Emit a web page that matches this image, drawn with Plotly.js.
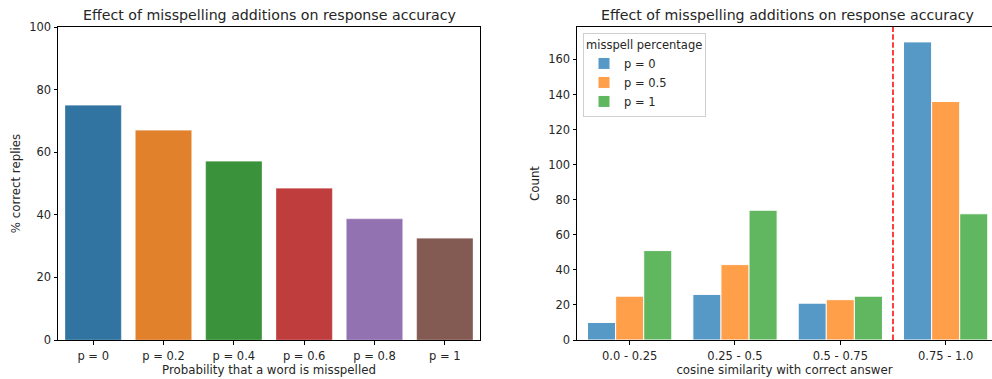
<!DOCTYPE html>
<html>
<head>
<meta charset="utf-8">
<script src="https://cdn.plot.ly/plotly-3.0.1.min.js"></script>
<style>html,body{margin:0;padding:0;background:#fff;}#chart{width:992px;height:379px;}</style>
</head>
<body>
<div id="chart"></div>
<script>
// Left chart data
const probLabels = ["p = 0", "p = 0.2", "p = 0.4", "p = 0.6", "p = 0.8", "p = 1"];
const pctCorrect = [75, 67, 57.1, 48.5, 38.7, 32.5];
const leftColors = ["#3274a1", "#e1812c", "#3a923a", "#c03d3e", "#9372b2", "#845b53"];

// Right chart data
const simBins = ["0.0 - 0.25", "0.25 - 0.5", "0.5 - 0.75", "0.75 - 1.0"];
const seriesNames = ["p = 0", "p = 0.5", "p = 1"];
const countP0 = [10, 26, 21, 170];
const countP05 = [25, 43, 23, 136];
const countP1 = [51, 74, 25, 72];
const seriesColors = ["#1f77b4", "#ff7f0e", "#2ca02c"];
const thresholdIndex = 2.5;

const FONT = "DejaVu Sans, sans-serif";
const tickFont = {family: FONT, size: 11.5, color: "#262626"};
const labFont = {family: FONT, size: 11.8, color: "#262626"};

const traces = [];
traces.push({
  type: "bar", x: probLabels, y: pctCorrect, xaxis: "x", yaxis: "y",
  marker: {color: leftColors, line: {color: "rgba(255,255,255,0.5)", width: 0.5}},
  width: 0.8, showlegend: false, hoverinfo: "x+y"
});
const seriesVals = [countP0, countP05, countP1];
for (let i = 0; i < 3; i++) {
  traces.push({
    type: "bar", name: seriesNames[i], x: simBins, y: seriesVals[i],
    xaxis: "x2", yaxis: "y2", opacity: 0.75,
    marker: {color: seriesColors[i], line: {color: "#ffffff", width: 1}}
  });
}

const ydom = [1 - 340/379, 1 - 27/379];
const common = {
  showgrid: false, zeroline: false, showline: true, linecolor: "#000", linewidth: 1,
  ticks: "outside", ticklen: 3.5, tickcolor: "#000", tickfont: tickFont
};
const layout = {
  width: 992, height: 379,
  margin: {l: 0, r: 0, t: 0, b: 0},
  paper_bgcolor: "#fff", plot_bgcolor: "#fff",
  font: {family: FONT, color: "#262626"},
  barmode: "group", bargap: 0.2, bargroupgap: 0,
  xaxis: Object.assign({}, common, {
    domain: [58/992, 480/992], anchor: "y", type: "category",
    range: [-0.5, 5.5], mirror: true, ticklabelstandoff: 2,
    title: {text: "Probability that a word is misspelled", font: labFont, standoff: 3}
  }),
  yaxis: Object.assign({}, common, {
    domain: ydom, anchor: "x", range: [0, 100], tickvals: [0,20,40,60,80,100], mirror: true,
    title: {text: "% correct replies", font: labFont, standoff: 6}
  }),
  xaxis2: Object.assign({}, common, {
    domain: [577/992, 1], anchor: "y2", type: "category",
    range: [-0.5, 3.44], mirror: true, ticklabelstandoff: 2,
    title: {text: "cosine similarity with correct answer", font: labFont, standoff: 3}
  }),
  yaxis2: Object.assign({}, common, {
    domain: ydom, anchor: "x2", range: [0, 178.5], tickvals: [0,20,40,60,80,100,120,140,160], mirror: false,
    title: {text: "Count", font: labFont, standoff: 6}
  }),
  legend: {
    x: 583/992, y: 1 - 33/379, xanchor: "left", yanchor: "top",
    bgcolor: "rgba(255,255,255,0.8)", bordercolor: "#d0d0d0", borderwidth: 1,
    font: {family: FONT, size: 11.5, color: "#262626"},
    title: {text: "misspell percentage", font: {family: FONT, size: 11.5, color: "#262626"}},
    tracegroupgap: 0, itemwidth: 30
  },
  shapes: [{
    type: "line", xref: "x2", yref: "y2 domain", x0: thresholdIndex, x1: thresholdIndex, y0: 0, y1: 1,
    line: {color: "red", width: 1.5, dash: "5.5px,2.4px"}
  }],
  annotations: [
    {text: "Effect of misspelling additions on response accuracy", xref: "paper", yref: "paper",
     x: 269/992, y: 1 - 15/379, xanchor: "center", yanchor: "middle", showarrow: false,
     font: {family: FONT, size: 14.2, color: "#262626"}},
    {text: "Effect of misspelling additions on response accuracy", xref: "paper", yref: "paper",
     x: 787.5/992, y: 1 - 15/379, xanchor: "center", yanchor: "middle", showarrow: false,
     font: {family: FONT, size: 14.2, color: "#262626"}}
  ]
};
Plotly.newPlot("chart", traces, layout, {displayModeBar: false, staticPlot: true});
</script>
</body>
</html>
